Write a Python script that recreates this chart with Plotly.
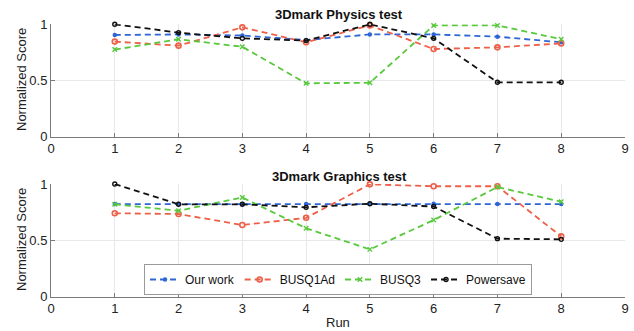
import plotly.graph_objects as go

runs = [1, 2, 3, 4, 5, 6, 7, 8]

phys_our = [0.905, 0.91, 0.90, 0.86, 0.91, 0.91, 0.89, 0.84]
phys_busq1ad = [0.846, 0.81, 0.973, 0.84, 0.99, 0.78, 0.795, 0.83]
phys_busq3 = [0.775, 0.867, 0.80, 0.475, 0.48, 0.99, 0.99, 0.867]
phys_power = [1.0, 0.926, 0.875, 0.855, 1.0, 0.875, 0.484, 0.484]

gfx_our = [0.822, 0.822, 0.822, 0.822, 0.825, 0.825, 0.822, 0.822]
gfx_busq1ad = [0.74, 0.734, 0.636, 0.70, 0.997, 0.98, 0.98, 0.535]
gfx_busq3 = [0.82, 0.763, 0.88, 0.607, 0.42, 0.68, 0.973, 0.843]
gfx_power = [1.0, 0.82, 0.82, 0.793, 0.825, 0.80, 0.515, 0.509]

x_ticks = [0, 1, 2, 3, 4, 5, 6, 7, 8, 9]
y_ticks = [0, 0.5, 1]
y_tick_labels = ["0", "0.5", "1"]

series_names = ["Our work", "BUSQ1Ad", "BUSQ3", "Powersave"]
colors = ["#2e66d6", "#ee6048", "#58c93c", "#111111"]
markers = [
    dict(symbol="circle", size=4.5),
    dict(symbol="circle-open", size=5, line=dict(width=1.6)),
    dict(symbol="x-thin-open", size=4.5, line=dict(width=1.4)),
    dict(symbol="circle-open", size=4, line=dict(width=1.4)),
]

phys = [phys_our, phys_busq1ad, phys_busq3, phys_power]
gfx = [gfx_our, gfx_busq1ad, gfx_busq3, gfx_power]

FONT = "Liberation Sans, Arial, sans-serif"
W, H = 634, 331
L, R = 51, 9

fig = go.Figure()

for i, name in enumerate(series_names):
    for data, xa, ya, show in [(phys[i], "x", "y", False), (gfx[i], "x2", "y2", True)]:
        m = dict(markers[i])
        m["color"] = colors[i]
        if "line" in m:
            m["line"] = dict(m["line"], color=colors[i])
        fig.add_trace(go.Scatter(
            x=runs, y=data, name=name, mode="lines+markers",
            line=dict(color=colors[i], width=1.8, dash="6px,4px"),
            marker=m, xaxis=xa, yaxis=ya, showlegend=show,
            cliponaxis=False,
        ))

def py(p):
    return 1 - p / H

def px(p):
    return (p - L) / (W - L - R)

top_dom = [py(136.7), py(24.3)]
bot_dom = [py(296.7), py(184)]

axis_common = dict(
    showgrid=True, gridcolor="#e6e8ec", gridwidth=1,
    showline=True, linecolor="#7a7a7a", linewidth=1,
    ticks="inside", ticklen=4, tickcolor="#7a7a7a",
    zeroline=False, mirror=False, automargin=False,
    tickfont=dict(family=FONT, size=13, color="#222222"),
)

def ann(text, x, y, size=13, angle=0, color="#222222"):
    return dict(text=text, x=px(x), xref="paper", y=py(y), yref="paper",
                xanchor="center", yanchor="middle", textangle=angle,
                showarrow=False, font=dict(family=FONT, size=size, color=color))

fig.update_layout(
    width=W, height=H,
    margin=dict(l=L, r=R, t=0, b=0),
    paper_bgcolor="white", plot_bgcolor="white",
    font=dict(family=FONT, color="#222222"),
    xaxis=dict(axis_common, range=[0, 9], tickvals=x_ticks, domain=[0, 1], anchor="y"),
    yaxis=dict(axis_common, range=[0, 1], tickvals=y_ticks, ticktext=y_tick_labels,
               domain=top_dom, anchor="x"),
    xaxis2=dict(axis_common, range=[0, 9], tickvals=x_ticks, domain=[0, 1], anchor="y2"),
    yaxis2=dict(axis_common, range=[0, 1], tickvals=y_ticks, ticktext=y_tick_labels,
                domain=bot_dom, anchor="x2"),
    legend=dict(
        orientation="h", x=0.5, y=py(295),
        xanchor="center", yanchor="bottom",
        bgcolor="white", bordercolor="#9a9a9a", borderwidth=1,
        font=dict(family=FONT, size=12, color="#111111"),
        itemwidth=30, tracegroupgap=0,
    ),
    annotations=[
        ann("<b>3Dmark Physics test</b>", 339, 15, color="#111111"),
        ann("<b>3Dmark Graphics test</b>", 339, 176, color="#111111"),
        ann("Normalized Score", 21, 80, angle=-90),
        ann("Normalized Score", 21, 240, angle=-90),
        ann("Run", 338, 322),
    ],
)

fig.write_html("out.html", config={"displayModeBar": False},
               post_script="document.body.style.margin='0';")
